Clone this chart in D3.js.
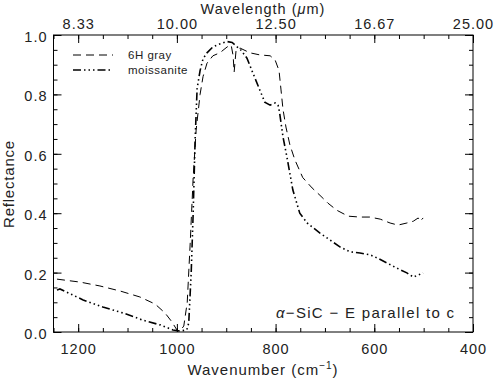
<!DOCTYPE html>
<html>
<head>
<meta charset="utf-8">
<script src="https://cdn.jsdelivr.net/npm/d3@7"></script>
<style>
  body { margin: 0; background: #fff; }
  text { font-family: "Liberation Sans", Arial, sans-serif; fill: #222; }
</style>
</head>
<body>
<svg id="chart" width="494" height="379"></svg>
<script>
// 6H gray (dashed)
const grayWn = [1243,1196,1156,1115,1075,1044,1024,1010,1000,994,986,979,973,967,961,953,947,939,927,913,898,890,886,884,880,872,852,832,811,801,793,789,785,779,771,761,745,726,710,694,676,653,629,609,588,568,552,534,521,511,507,501];
const grayR = [0.178,0.168,0.155,0.138,0.118,0.094,0.064,0.034,0.007,0.003,0.02,0.10,0.30,0.52,0.68,0.80,0.86,0.905,0.93,0.94,0.96,0.966,0.93,0.875,0.95,0.956,0.94,0.933,0.93,0.916,0.88,0.815,0.75,0.69,0.63,0.58,0.52,0.485,0.46,0.434,0.41,0.39,0.387,0.387,0.38,0.367,0.36,0.367,0.373,0.384,0.373,0.384];

// moissanite (dash dot dot dot)
const moisWn = [1243,1237,1190,1150,1109,1069,1034,1008,994,980,976,971,967,963,959,953,947,939,927,913,898,888,878,872,858,846,832,822,811,801,795,792,785,777,765,751,736,710,690,669,649,629,609,595,574,554,534,521,511,501];
const moisR = [0.141,0.145,0.108,0.084,0.064,0.04,0.024,0.007,0.003,0.007,0.03,0.2,0.4,0.65,0.82,0.88,0.92,0.94,0.96,0.97,0.978,0.975,0.96,0.953,0.922,0.872,0.815,0.774,0.764,0.771,0.764,0.74,0.657,0.589,0.478,0.40,0.367,0.333,0.31,0.286,0.27,0.266,0.26,0.25,0.232,0.215,0.199,0.185,0.192,0.199];

const xMajor = [1200, 1000, 800, 600, 400];
const xMinor = d3.range(1250, 399, -50);
const yMajor = [0, 0.2, 0.4, 0.6, 0.8, 1.0];
const yMinor = d3.range(0, 1.001, 0.05);
const seriesNames = ["6H gray", "moissanite"];

const svg = d3.select("#chart");
const box = { left: 53.5, right: 473, top: 35, bottom: 332 };

const x = d3.scaleLinear().domain([1250, 400]).range([box.left, box.right]);
const y = d3.scaleLinear().domain([0, 1]).range([box.bottom, box.top]);

// frame
svg.append("rect")
  .attr("x", box.left).attr("y", box.top)
  .attr("width", box.right - box.left).attr("height", box.bottom - box.top)
  .attr("fill", "none").attr("stroke", "#000").attr("stroke-width", 1);

function tickAxis(axis, g) {
  g.call(axis);
  g.select(".domain").remove();
  g.selectAll("line").attr("stroke", "#000");
  g.selectAll("text").attr("font-size", 14.5).attr("letter-spacing", 1).attr("fill", "#222");
  return g;
}

// bottom
tickAxis(d3.axisBottom(x).tickValues(xMinor).tickSize(-4).tickFormat(""),
  svg.append("g").attr("transform", `translate(0,${box.bottom})`));
tickAxis(d3.axisBottom(x).tickValues(xMajor).tickSize(-8).tickPadding(12).tickFormat(d3.format("d")),
  svg.append("g").attr("transform", `translate(0,${box.bottom})`));

// top
tickAxis(d3.axisTop(x).tickValues(xMinor).tickSize(-4).tickFormat(""),
  svg.append("g").attr("transform", `translate(0,${box.top})`));
tickAxis(d3.axisTop(x).tickValues(xMajor).tickSize(-8).tickPadding(6).tickFormat(d => (1e4 / d).toFixed(2)),
  svg.append("g").attr("transform", `translate(0,${box.top})`));

// left
tickAxis(d3.axisLeft(y).tickValues(yMinor).tickSize(-4).tickFormat(""),
  svg.append("g").attr("transform", `translate(${box.left},0)`));
tickAxis(d3.axisLeft(y).tickValues(yMajor).tickSize(-8).tickPadding(6).tickFormat(d3.format(".1f")),
  svg.append("g").attr("transform", `translate(${box.left},0)`))
  .selectAll("text").attr("dy", "0.45em");

// right
tickAxis(d3.axisRight(y).tickValues(yMinor).tickSize(-4).tickFormat(""),
  svg.append("g").attr("transform", `translate(${box.right},0)`));
tickAxis(d3.axisRight(y).tickValues(yMajor).tickSize(-8).tickFormat(""),
  svg.append("g").attr("transform", `translate(${box.right},0)`));

// axis titles
svg.append("text").attr("x", 263).attr("y", 14).attr("text-anchor", "middle")
  .attr("font-size", 14.5).attr("letter-spacing", 1)
  .html('Wavelength (<tspan font-style="italic">μ</tspan>m)');
svg.append("text").attr("x", 263).attr("y", 375).attr("text-anchor", "middle")
  .attr("font-size", 15).attr("letter-spacing", 1)
  .html('Wavenumber (cm<tspan dy="-6" font-size="10">−1</tspan><tspan dy="6">)</tspan>');
svg.append("text").attr("transform", "translate(14,184) rotate(-90)").attr("text-anchor", "middle")
  .attr("font-size", 15).attr("letter-spacing", 0.8).text("Reflectance");

// curves
const line = d3.line().x(d => x(d[0])).y(d => y(d[1]));
const styles = [
  { dash: "8,5", width: 1 },
  { dash: "8,3,1.5,3,1.5,3,1.5,3", width: 1.6 }
];
const series = [d3.zip(grayWn, grayR), d3.zip(moisWn, moisR)];

svg.append("g").selectAll("path").data(series).join("path")
  .attr("d", line)
  .attr("fill", "none")
  .attr("stroke", "#000")
  .attr("stroke-width", (d, i) => styles[i].width)
  .attr("stroke-dasharray", (d, i) => styles[i].dash);

// legend
const leg = svg.append("g").selectAll("g").data(seriesNames).join("g")
  .attr("transform", (d, i) => `translate(73,${55 + i * 15})`);
leg.append("line").attr("x1", 0).attr("x2", 40).attr("stroke", "#000")
  .attr("stroke-width", (d, i) => styles[i].width)
  .attr("stroke-dasharray", (d, i) => styles[i].dash);
leg.append("text").attr("x", 55).attr("y", 4).attr("font-size", 11.5).attr("letter-spacing", 0.5).text(d => d);

// annotation
svg.append("text").attr("x", 276).attr("y", 318).attr("font-size", 15).attr("letter-spacing", 1.3)
  .html('<tspan font-style="italic">α</tspan>−SiC − E parallel to c');
</script>
</body>
</html>
